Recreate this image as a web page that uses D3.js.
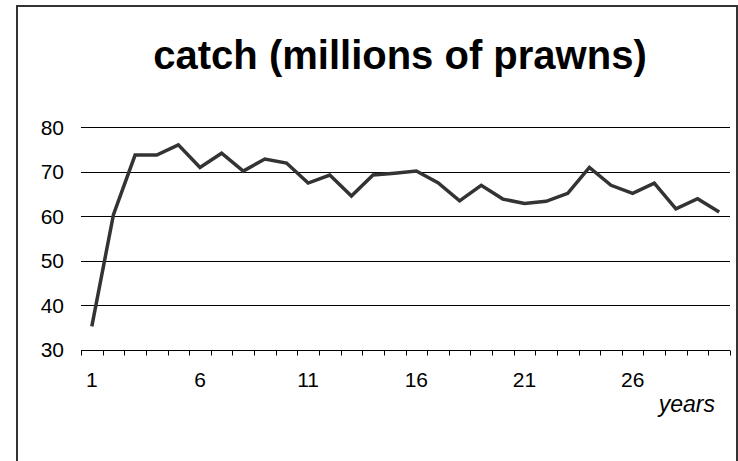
<!DOCTYPE html>
<html>
<head>
<meta charset="utf-8">
<script src="https://cdn.jsdelivr.net/npm/d3@7"></script>
<style>
  html, body { margin: 0; padding: 0; background: #fff; }
  svg { display: block; }
</style>
</head>
<body>
<svg id="chart" width="738" height="461"></svg>
<script>
// Annual prawn catch, in millions, over 30 years
const years = d3.range(1, 31);
const catchValues = [
  35.2, 60.3, 73.7, 73.7, 76.0, 70.9, 74.1, 70.1, 72.8, 71.9,
  67.4, 69.2, 64.5, 69.2, 69.6, 70.1, 67.5, 63.4, 66.9, 63.8,
  62.8, 63.3, 65.1, 70.9, 66.9, 65.1, 67.4, 61.6, 63.9, 60.9
];
const yTicks = [30, 40, 50, 60, 70, 80];
const xLabelEvery = 5;
const titleText = "catch (millions of prawns)";
const xAxisTitle = "years";

const svg = d3.select("#chart");
const font = "Liberation Sans, Arial, sans-serif";

// outer frame
svg.append("rect")
  .attr("x", 17).attr("y", 6)
  .attr("width", 720).attr("height", 520)
  .attr("fill", "none")
  .attr("stroke", "#333")
  .attr("stroke-width", 2);

const plot = { left: 81, right: 730, top: 127, bottom: 349.5 };

const x = d3.scaleBand()
  .domain(years)
  .range([plot.left, plot.right])
  .paddingInner(0).paddingOuter(0);

const y = d3.scaleLinear()
  .domain([30, 80])
  .range([plot.bottom, plot.top]);

// horizontal gridlines
svg.append("g")
  .selectAll("line")
  .data(yTicks.filter(t => t > 30))
  .join("line")
  .attr("x1", plot.left).attr("x2", plot.right)
  .attr("y1", d => Math.round(y(d)) + 0.5)
  .attr("y2", d => Math.round(y(d)) + 0.5)
  .attr("stroke", "#000")
  .attr("stroke-width", 1);

// y-axis labels
svg.append("g")
  .selectAll("text")
  .data(yTicks)
  .join("text")
  .attr("x", 64)
  .attr("y", d => y(d))
  .attr("dy", "0.36em")
  .attr("text-anchor", "end")
  .attr("font-family", font)
  .attr("font-size", 21)
  .attr("fill", "#000")
  .text(d => d);

// x axis: baseline with ticks at category boundaries
const xAxisY = Math.round(y(30)) + 0.5;
const ax = svg.append("g");
ax.append("line")
  .attr("x1", plot.left).attr("x2", plot.right)
  .attr("y1", xAxisY).attr("y2", xAxisY)
  .attr("stroke", "#000").attr("stroke-width", 1);
const boundaries = years.map(d => x(d)).concat([x(years[years.length - 1]) + x.bandwidth()]);
ax.selectAll("line.tick")
  .data(boundaries)
  .join("line")
  .attr("class", "tick")
  .attr("x1", d => Math.round(d) + 0.5).attr("x2", d => Math.round(d) + 0.5)
  .attr("y1", xAxisY).attr("y2", xAxisY + 5)
  .attr("stroke", "#000").attr("stroke-width", 1);

ax.selectAll("text")
  .data(years.filter((d, i) => i % xLabelEvery === 0))
  .join("text")
  .attr("x", d => x(d) + x.bandwidth() / 2)
  .attr("y", 387)
  .attr("text-anchor", "middle")
  .attr("font-family", font)
  .attr("font-size", 21)
  .attr("fill", "#000")
  .text(d => d);

svg.append("text")
  .attr("x", 715)
  .attr("y", 412)
  .attr("text-anchor", "end")
  .attr("font-family", font)
  .attr("font-style", "italic")
  .attr("font-size", 23)
  .attr("fill", "#000")
  .text(xAxisTitle);

// catch line
const line = d3.line()
  .x((d, i) => x(years[i]) + x.bandwidth() / 2)
  .y(d => y(d));

svg.append("path")
  .datum(catchValues)
  .attr("d", line)
  .attr("fill", "none")
  .attr("stroke", "#333")
  .attr("stroke-width", 3.5)
  .attr("stroke-linejoin", "miter");

// chart title
svg.append("text")
  .attr("x", 400)
  .attr("y", 69)
  .attr("text-anchor", "middle")
  .attr("font-family", font)
  .attr("font-weight", "bold")
  .attr("font-size", 40)
  .attr("fill", "#000")
  .text(titleText);
</script>
</body>
</html>
